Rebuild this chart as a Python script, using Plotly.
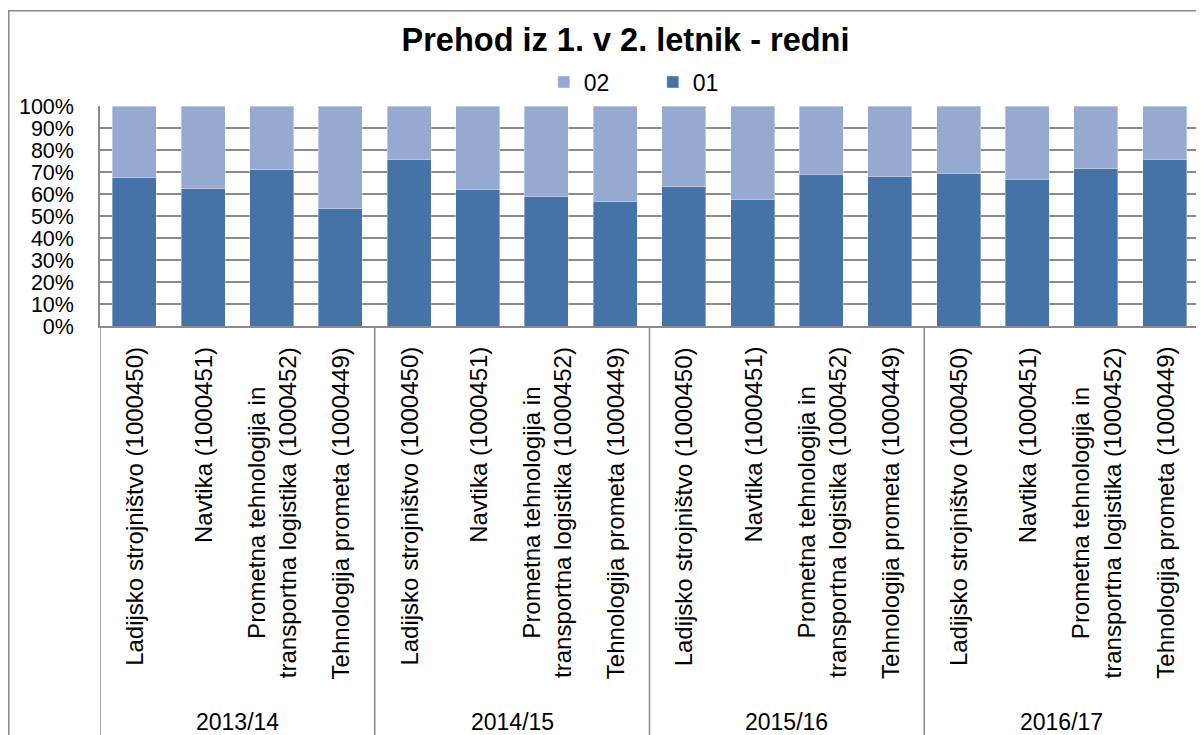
import plotly.graph_objects as go

years = ["2013/14", "2014/15", "2015/16", "2016/17"]
programs = [
    "Ladijsko strojništvo (1000450)",
    "Navtika (1000451)",
    "Prometna tehnologija in<br>transportna logistika (1000452)",
    "Tehnologija prometa (1000449)",
]
# share of "01" per bar (year-major order)
share_01 = [0.674, 0.624, 0.710, 0.533,
            0.758, 0.621, 0.588, 0.565,
            0.633, 0.576, 0.689, 0.679,
            0.695, 0.667, 0.715, 0.758]
share_02 = [round(1 - v, 3) for v in share_01]

colors = {"01": "#4573A7", "02": "#95A9D1"}

cats = [f"{y} | {p}" for y in years for p in programs]
prog_labels = [p for y in years for p in programs]

FONT = "Liberation Sans"
GRID = "#8A8A8A"
EDGE = dict(color="rgba(255,255,255,0.45)", width=0.8)

fig = go.Figure()
fig.add_trace(go.Bar(x=cats, y=share_01, name="01", marker=dict(color=colors["01"], line=EDGE), width=0.64))
fig.add_trace(go.Bar(x=cats, y=share_02, name="02", marker=dict(color=colors["02"], line=EDGE), width=0.64))

annotations = []
for c, lab in zip(cats, prog_labels):
    annotations.append(dict(x=c, xref="x", y=0, yref="paper", yanchor="top", xanchor="center",
                            yshift=-19, text=lab, textangle=-90, showarrow=False, align="center",
                            font=dict(family=FONT, size=24, color="black")))
n = len(programs)
for gi, y in enumerate(years):
    annotations.append(dict(x=gi * n + (n - 1) / 2, xref="x", y=-1.798, yref="paper", yanchor="middle",
                            xanchor="center", text=y, showarrow=False,
                            font=dict(family=FONT, size=23, color="black")))

shapes = []
for gi in range(len(years) + 1):
    b = gi * n - 0.5
    shapes.append(dict(type="line", xref="x", yref="paper", x0=b, x1=b, y0=0, y1=-1.95,
                       line=dict(color=GRID, width=1.5)))
# outer chart border
shapes.append(dict(type="rect", xref="paper", yref="paper", x0=-0.0830, x1=1.02, y0=-1.95, y1=1.433,
                   line=dict(color=GRID, width=1.5), fillcolor="rgba(0,0,0,0)", layer="below"))

W, H = 1196, 727
fig.update_layout(
    width=W, height=H, autosize=False,
    margin=dict(l=92, r=5, t=98, b=409),
    barmode="stack",
    paper_bgcolor="white", plot_bgcolor="white",
    title=dict(text="Prehod iz 1. v 2. letnik - redni", x=(625.5 - 8) / W, xanchor="center",
               y=1 - 32 / H, yanchor="middle",
               font=dict(family=FONT, size=32.5, color="black", weight="bold")),
    legend=dict(orientation="h", x=0.503, xanchor="center", y=1.109, yanchor="middle",
                traceorder="reversed", font=dict(family=FONT, size=23, color="black"),
                entrywidth=64, itemwidth=30, bgcolor="rgba(0,0,0,0)"),
    xaxis=dict(showticklabels=False, ticks="", showgrid=False, showline=True, linecolor=GRID,
               linewidth=1.5, range=[-0.5, len(cats) - 0.5], fixedrange=True),
    yaxis=dict(range=[0, 1.0001], dtick=0.1, tickformat=".0%", showgrid=True, gridcolor=GRID,
               gridwidth=1.5, showline=True, linecolor=GRID, linewidth=1.5, ticks="",
               ticklabelstandoff=20, zeroline=False,
               tickfont=dict(family=FONT, size=21.5, color="black")),
    annotations=annotations,
    shapes=shapes,
    showlegend=True,
)

fig.write_html("out.html")
